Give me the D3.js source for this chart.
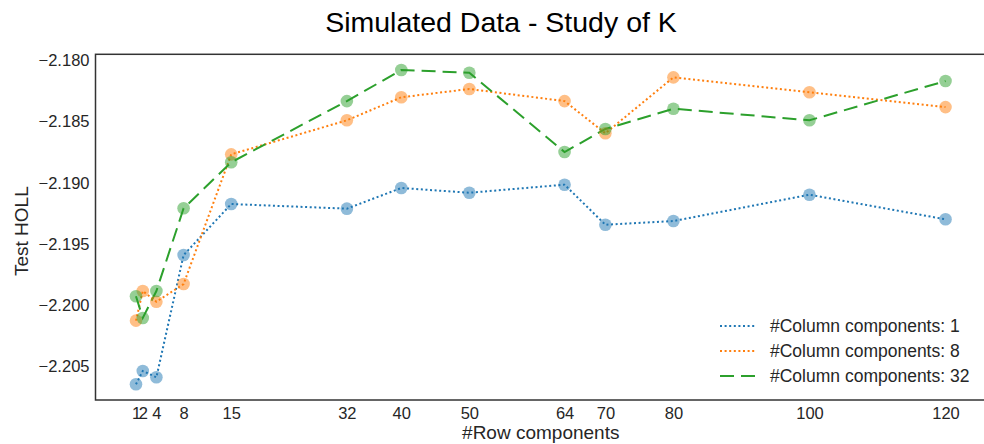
<!DOCTYPE html>
<html>
<head>
<meta charset="utf-8">
<script src="https://cdnjs.cloudflare.com/ajax/libs/d3/7.8.5/d3.min.js"></script>
<style>
  body { margin: 0; background: #fff; }
  svg text { font-family: "Liberation Sans", Arial, sans-serif; fill: #262626; }
</style>
</head>
<body>
<script>
// Row components on the x axis
const rowComponents = [1, 2, 4, 8, 15, 32, 40, 50, 64, 70, 80, 100, 120];

// Test HOLL per number of column components
const col1 = [-2.20647, -2.20538, -2.2059, -2.19591, -2.19174, -2.19212, -2.19043, -2.19082, -2.19016, -2.19343, -2.19313, -2.19098, -2.19299];
const col8 = [-2.20127, -2.19885, -2.19972, -2.19828, -2.18768, -2.1849, -2.18302, -2.18234, -2.18333, -2.18596, -2.18139, -2.18261, -2.18382];
const col32 = [-2.19928, -2.20105, -2.19885, -2.19209, -2.18833, -2.18333, -2.18079, -2.18101, -2.18749, -2.18561, -2.18395, -2.1849, -2.18169];

const yTicks = [-2.180, -2.185, -2.190, -2.195, -2.200, -2.205];
const seriesNames = ['#Column components: 1', '#Column components: 8', '#Column components: 32'];

const width = 984;
const height = 444;
const margin = { top: 54.3, right: -2, bottom: 44, left: 95.5 };

let svg = d3.select('body')
  .append('svg')
  .attr('width', width)
  .attr('height', height);

// matplotlib style 5% padding on both axes
let xExt = d3.extent(rowComponents);
let xPad = (xExt[1] - xExt[0]) * 0.05;
let allY = col1.concat(col8, col32);
let yExt = d3.extent(allY);
let yPad = (yExt[1] - yExt[0]) * 0.05;

let x = d3.scaleLinear()
  .domain([xExt[0] - xPad, xExt[1] + xPad])
  .range([margin.left, width - margin.right]);

let y = d3.scaleLinear()
  .domain([yExt[0] - yPad, yExt[1] + yPad])
  .range([height - margin.bottom, margin.top]);

let series = [
  { name: seriesNames[0], values: col1, color: '#1f77b4', dash: '2,2.6' },
  { name: seriesNames[1], values: col8, color: '#ff7f0e', dash: '2,2.6' },
  { name: seriesNames[2], values: col32, color: '#2ca02c', dash: '14,7' }
];

// Axes (no tick marks, just labels)
let xAxis = svg.append('g')
  .attr('transform', `translate(0, ${height - margin.bottom})`)
  .call(d3.axisBottom(x).tickValues(rowComponents).tickSize(0).tickPadding(7).tickFormat(d3.format('d')));

let yAxis = svg.append('g')
  .attr('transform', `translate(${margin.left}, 0)`)
  .call(d3.axisLeft(y).tickValues(yTicks).tickSize(0).tickPadding(6).tickFormat(d3.format('.3f')));

[xAxis, yAxis].forEach((a) => {
  a.select('.domain').remove();
  a.selectAll('text').style('font-size', '16.5px').attr('fill', '#262626');
});

// Lines
let line = d3.line()
  .x((d, i) => x(rowComponents[i]))
  .y((d) => y(d));

series.forEach((s) => {
  svg.append('path')
    .datum(s.values)
    .attr('fill', 'none')
    .attr('stroke', s.color)
    .attr('stroke-width', 2)
    .attr('stroke-dasharray', s.dash)
    .attr('d', line);
});

// Markers
series.forEach((s) => {
  svg.append('g')
    .selectAll('circle')
    .data(s.values)
    .enter()
    .append('circle')
    .attr('cx', (d, i) => x(rowComponents[i]))
    .attr('cy', (d) => y(d))
    .attr('r', 6.3)
    .attr('fill', s.color)
    .attr('fill-opacity', 0.5);
});

// Frame
svg.append('rect')
  .attr('x', margin.left)
  .attr('y', margin.top)
  .attr('width', width - margin.right - margin.left)
  .attr('height', height - margin.bottom - margin.top)
  .attr('fill', 'none')
  .attr('stroke', '#333')
  .attr('stroke-width', 1.5);

// Title and labels
svg.append('text')
  .attr('x', 501)
  .attr('y', 32)
  .attr('text-anchor', 'middle')
  .style('font-size', '28.5px')
  .style('fill', '#000')
  .text('Simulated Data - Study of K');

svg.append('text')
  .attr('x', (margin.left + width - margin.right) / 2)
  .attr('y', 439)
  .attr('text-anchor', 'middle')
  .style('font-size', '19px')
  .text('#Row components');

svg.append('text')
  .attr('transform', `translate(28, ${(margin.top + height - margin.bottom) / 2 + 4}) rotate(-90)`)
  .attr('text-anchor', 'middle')
  .style('font-size', '19px')
  .text('Test HOLL');

// Legend
let legend = svg.append('g')
  .selectAll('g')
  .data(series)
  .enter()
  .append('g')
  .attr('transform', (d, i) => `translate(720, ${326 + i * 25})`);

legend.append('line')
  .attr('x1', 0)
  .attr('x2', 35)
  .attr('stroke', (d) => d.color)
  .attr('stroke-width', 2)
  .attr('stroke-dasharray', (d) => d.dash);

legend.append('text')
  .attr('x', 50)
  .attr('y', 6)
  .style('font-size', '17.5px')
  .text((d) => d.name);
</script>
</body>
</html>
